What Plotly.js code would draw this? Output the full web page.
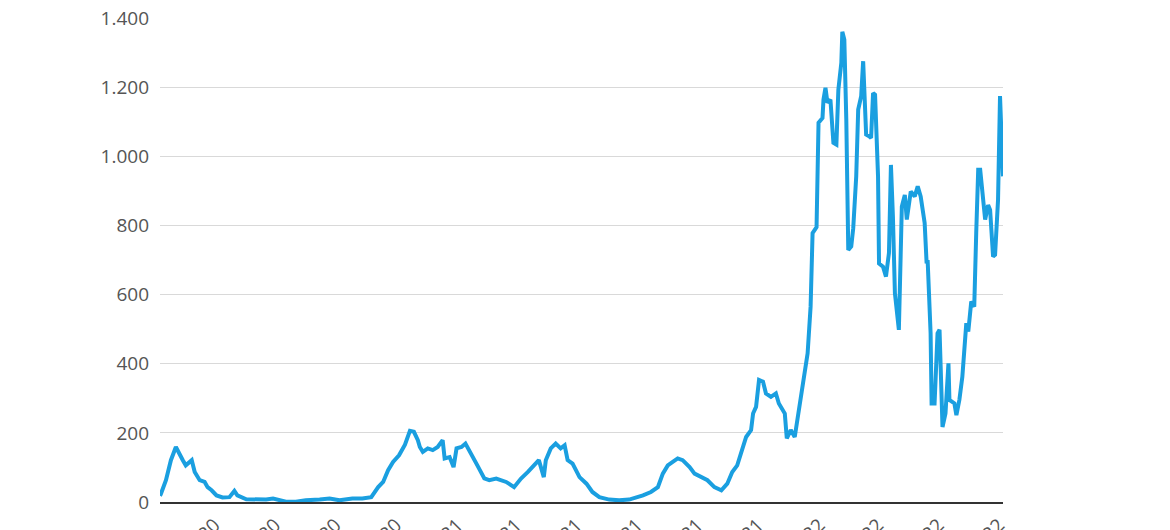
<!DOCTYPE html>
<html>
<head>
<meta charset="utf-8">
<script src="https://cdn.plot.ly/plotly-3.0.1.min.js"></script>
<style>html,body{margin:0;padding:0;background:#fff;overflow:hidden}#chart{width:1170px;height:530px}</style>
</head>
<body>
<div id="chart"></div>
<script>
const dates = [
"2020-04-07","2020-04-08","2020-04-13","2020-04-18","2020-04-23","2020-04-26","2020-04-30","2020-05-03","2020-05-09","2020-05-12",
"2020-05-17","2020-05-22","2020-05-25","2020-05-29","2020-06-03","2020-06-09","2020-06-16","2020-06-21","2020-06-24","2020-07-03",
"2020-07-23","2020-07-30","2020-08-12","2020-08-22","2020-09-01","2020-09-15","2020-09-25","2020-10-05","2020-10-18","2020-10-28",
"2020-11-06","2020-11-13","2020-11-18","2020-11-23","2020-11-28","2020-12-04","2020-12-10","2020-12-15","2020-12-19","2020-12-23",
"2020-12-25","2020-12-28","2021-01-02","2021-01-07","2021-01-12","2021-01-17","2021-01-19","2021-01-24","2021-01-28","2021-01-31",
"2021-02-05","2021-02-09","2021-02-15","2021-02-21","2021-02-28","2021-03-05","2021-03-12","2021-03-22","2021-03-30","2021-04-06",
"2021-04-13","2021-04-20","2021-04-24","2021-04-29","2021-05-01","2021-05-06","2021-05-11","2021-05-16","2021-05-20","2021-05-23",
"2021-05-28","2021-06-04","2021-06-11","2021-06-17","2021-06-24","2021-07-04","2021-07-14","2021-07-24","2021-07-31","2021-08-07",
"2021-08-15","2021-08-22","2021-08-27","2021-09-01","2021-09-06","2021-09-11","2021-09-16","2021-09-23","2021-09-28","2021-10-05",
"2021-10-11","2021-10-18","2021-10-25","2021-10-31","2021-11-05","2021-11-10","2021-11-15","2021-11-19","2021-11-24","2021-11-26",
"2021-11-29","2021-12-02","2021-12-06","2021-12-09","2021-12-14","2021-12-19","2021-12-22","2021-12-28","2021-12-30","2022-01-03",
"2022-01-07","2022-01-10","2022-01-13","2022-01-17","2022-01-20","2022-01-23","2022-01-25","2022-01-29","2022-01-31","2022-02-04",
"2022-02-05","2022-02-07","2022-02-09","2022-02-12","2022-02-15","2022-02-18","2022-02-20","2022-02-23","2022-02-24","2022-02-26",
"2022-02-28","2022-03-02","2022-03-05","2022-03-07","2022-03-10","2022-03-12","2022-03-15","2022-03-17","2022-03-20","2022-03-23",
"2022-03-25","2022-03-27","2022-03-29","2022-04-01","2022-04-02","2022-04-06","2022-04-09","2022-04-12","2022-04-14","2022-04-16",
"2022-04-18","2022-04-22","2022-04-23","2022-04-25","2022-04-28","2022-04-30","2022-05-04","2022-05-08","2022-05-11","2022-05-14",
"2022-05-18","2022-05-20","2022-05-21","2022-05-24","2022-05-25","2022-05-28","2022-05-31","2022-06-02","2022-06-05","2022-06-08",
"2022-06-11","2022-06-12","2022-06-17","2022-06-19","2022-06-22","2022-06-25","2022-06-29","2022-07-01","2022-07-04","2022-07-07",
"2022-07-09","2022-07-11","2022-07-13","2022-07-16","2022-07-18","2022-07-21","2022-07-23","2022-07-26","2022-07-28","2022-07-31",
"2022-08-01","2022-08-02","2022-08-05"
];
const values = [
18,24,63,121,159,145,121,106,121,87,
63,58,43,34,19,13,14,32,19,8,
7,10,1,1,5,7,10,5,10,10,
14,43,58,92,116,135,166,206,203,179,
159,145,155,150,159,179,126,130,101,155,
159,169,135,106,68,63,68,58,43,68,
87,111,121,72,121,155,169,155,164,121,
111,72,53,29,14,7,5,7,13,19,
29,43,82,106,116,126,121,101,82,72,
63,43,34,53,87,106,155,188,208,256,
275,353,348,314,304,314,285,256,184,208,
188,246,300,372,430,565,778,795,1097,1111,
1164,1198,1155,1164,1039,1034,1193,1271,1360,1338,
1106,729,739,792,942,1135,1174,1275,1063,1058,
1053,1183,1178,942,690,681,652,720,975,826,
604,498,643,855,888,817,898,884,913,884,
807,690,700,488,285,285,488,498,217,256,
401,295,285,251,295,362,517,493,580,565,
778,961,961,874,817,859,845,710,715,874,
1164,1174,942
];
const yTicks = [0,200,400,600,800,1000,1200,1400];
const yTickLabels = ["0","200","400","600","800","1.000","1.200","1.400"];

const trace = {
  x: dates, y: values, type: "scatter", mode: "lines",
  line: {color: "#1a9fe0", width: 4, shape: "linear"},
  hoverinfo: "x+y"
};
const font = {family: "'Open Sans', 'Noto Sans', sans-serif", size: 19, color: "#555555"};
const layout = {
  width: 1170, height: 530,
  margin: {l: 160, r: 167, t: 18, b: 28, pad: 0},
  paper_bgcolor: "#ffffff", plot_bgcolor: "#ffffff",
  showlegend: false,
  font: font,
  xaxis: {
    type: "date",
    range: [dates[0], dates[dates.length - 1]],
    tick0: "2020-06-01", dtick: "M2",
    tickformat: "%d.%m.%Y",
    tickangle: -45,
    showgrid: false, zeroline: false,
    showline: true, linecolor: "#333333", linewidth: 1.5,
    ticks: "", ticklabelstandoff: 3,
    tickfont: font, automargin: false
  },
  yaxis: {
    range: [0, 1400],
    tickvals: yTicks, ticktext: yTickLabels,
    showgrid: true, gridcolor: "#d9d9d9", gridwidth: 1,
    zeroline: false, showline: false, ticks: "",
    ticklabelstandoff: 10,
    tickfont: font, automargin: false
  }
};
Plotly.newPlot("chart", [trace], layout, {displayModeBar: false, staticPlot: true});
</script>
</body>
</html>
